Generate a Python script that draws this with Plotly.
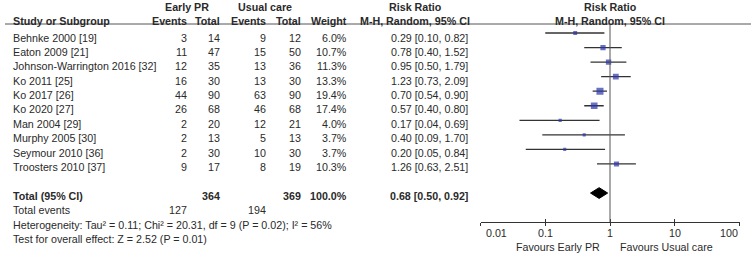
import math
import plotly.graph_objects as go

studies = ["Behnke 2000 [19]", "Eaton 2009 [21]", "Johnson-Warrington 2016 [32]", "Ko 2011 [25]",
           "Ko 2017 [26]", "Ko 2020 [27]", "Man 2004 [29]", "Murphy 2005 [30]",
           "Seymour 2010 [36]", "Troosters 2010 [37]"]
ep_events = [3, 11, 12, 16, 44, 26, 2, 2, 2, 9]
ep_total = [14, 47, 35, 30, 90, 68, 20, 13, 30, 17]
uc_events = [9, 15, 13, 13, 63, 46, 12, 5, 10, 8]
uc_total = [12, 50, 36, 30, 90, 68, 21, 13, 30, 19]
weight = [6.0, 10.7, 11.3, 13.3, 19.4, 17.4, 4.0, 3.7, 3.7, 10.3]
rr = [0.29, 0.78, 0.95, 1.23, 0.70, 0.57, 0.17, 0.40, 0.20, 1.26]
rr_lo = [0.10, 0.40, 0.50, 0.73, 0.54, 0.40, 0.04, 0.09, 0.05, 0.63]
rr_hi = [0.82, 1.52, 1.79, 2.09, 0.90, 0.80, 0.69, 1.70, 0.84, 2.51]

total_ep = 364
total_uc = 369
total_weight = "100.0%"
pooled = 0.68
pooled_lo = 0.50
pooled_hi = 0.92
events_ep = 127
events_uc = 194
heterogeneity = "Heterogeneity: Tau² = 0.11; Chi² = 20.31, df = 9 (P = 0.02); I² = 56%"
overall = "Test for overall effect: Z = 2.52 (P = 0.01)"
tick_vals = [0.01, 0.1, 1, 10, 100]
tick_text = ["0.01", "0.1", "1", "10", "100"]

W, H = 751, 253
FONT = "Liberation Sans, Arial, sans-serif"
FS = 10.7
TXT = "#2a2a2a"
BLUE = "#2b35a8"

# layout geometry (pixels)
AX_Y = 222
ROW0_MARK, ROW_STEP_MARK = 33, 14.55
ROW0_TXT, ROW_STEP_TXT = 37.5, 14.4
y_top = -ROW0_MARK / ROW_STEP_MARK
y_bot = (AX_Y - ROW0_MARK) / ROW_STEP_MARK


def py(p):
    return 1 - p / H


def px(p):
    return p / W


fig = go.Figure()

# CI lines
xs, ys = [], []
for i in range(len(rr)):
    xs += [rr_lo[i], rr_hi[i], None]
    ys += [i, i, None]
fig.add_trace(go.Scatter(x=xs, y=ys, mode="lines", line=dict(color="#333333", width=1.3),
                         hoverinfo="skip", showlegend=False))
# point estimates
fig.add_trace(go.Scatter(x=rr, y=list(range(len(rr))), mode="markers",
                         marker=dict(symbol="square", color=BLUE,
                                     size=[1.6 * w ** 0.5 for w in weight], line=dict(width=0)),
                         showlegend=False))
# pooled diamond
tr = len(rr) + 1
hh = 0.37
fig.add_trace(go.Scatter(x=[pooled_lo, pooled, pooled_hi, pooled, pooled_lo],
                         y=[tr, tr - hh, tr, tr + hh, tr], mode="lines", fill="toself",
                         fillcolor="black", line=dict(color="black", width=1), showlegend=False))
# dummy trace for the second x axis (upward ticks)
fig.add_trace(go.Scatter(x=[1], y=[tr], xaxis="x2", mode="markers",
                         marker=dict(opacity=0), showlegend=False, hoverinfo="skip"))

ann = []


def text(x, y, s, anchor="left", bold=False):
    ann.append(dict(x=px(x), y=py(y), xref="paper", yref="paper",
                    text=f"<b>{s}</b>" if bold else s, showarrow=False, xanchor=anchor,
                    yanchor="middle", font=dict(family=FONT, size=FS, color=TXT)))


# headers
text(187, 7, "Early PR", "center", True)
text(265, 7, "Usual care", "center", True)
text(415, 7, "Risk Ratio", "center", True)
text(11, 21, "Study or Subgroup", "left", True)
text(189, 21, "Events", "right", True)
text(222, 21, "Total", "right", True)
text(268, 21, "Events", "right", True)
text(303, 21, "Total", "right", True)
text(349, 21, "Weight", "right", True)
text(415, 21, "M-H, Random, 95% CI", "center", True)
text(610, 7, "Risk Ratio", "center", True)
text(610, 21, "M-H, Random, 95% CI", "center", True)

for i, s in enumerate(studies):
    yy = ROW0_TXT + ROW_STEP_TXT * i
    text(11, yy, s)
    text(189, yy, str(ep_events[i]), "right")
    text(222, yy, str(ep_total[i]), "right")
    text(268, yy, str(uc_events[i]), "right")
    text(303, yy, str(uc_total[i]), "right")
    text(349, yy, f"{weight[i]:.1f}%", "right")
    text(470, yy, f"{rr[i]:.2f} [{rr_lo[i]:.2f}, {rr_hi[i]:.2f}]", "right")

yy = ROW0_TXT + ROW_STEP_TXT * 11
text(11, yy, "Total (95% CI)", "left", True)
text(222, yy, str(total_ep), "right", True)
text(303, yy, str(total_uc), "right", True)
text(349, yy, total_weight, "right", True)
text(470, yy, f"{pooled:.2f} [{pooled_lo:.2f}, {pooled_hi:.2f}]", "right", True)
yy = ROW0_TXT + ROW_STEP_TXT * 12
text(11, yy, "Total events")
text(189, yy, str(events_ep), "right")
text(268, yy, str(events_uc), "right")
text(11, ROW0_TXT + ROW_STEP_TXT * 13, heterogeneity)
text(11, ROW0_TXT + ROW_STEP_TXT * 14, overall)

# tick labels (end labels aligned inward, as in RevMan); log axes take log10 positions
for k, (v, t) in enumerate(zip(tick_vals, tick_text)):
    anchor = "left" if k == 0 else ("right" if k == len(tick_vals) - 1 else "center")
    ann.append(dict(x=math.log10(v), y=py(233), xref="x", yref="paper", text=t, showarrow=False,
                    xanchor=anchor, xshift=(3 if k == 0 else 0), yanchor="middle",
                    font=dict(family=FONT, size=FS, color=TXT)))

# favours labels
ann.append(dict(x=0, y=py(247), xref="x", yref="paper", text="Favours Early PR", showarrow=False,
                xanchor="right", xshift=-8, yanchor="middle", font=dict(family=FONT, size=FS, color=TXT)))
ann.append(dict(x=0, y=py(247), xref="x", yref="paper", text="Favours Usual care", showarrow=False,
                xanchor="left", xshift=8, yanchor="middle", font=dict(family=FONT, size=FS, color=TXT)))

shapes = [
    dict(type="line", xref="paper", yref="paper", x0=px(5), x1=1, y0=py(24), y1=py(24),
         line=dict(color="#555555", width=1)),
    dict(type="line", xref="x", yref="paper", x0=1, x1=1, y0=py(24), y1=py(AX_Y),
         line=dict(color="#555555", width=1)),
]

dom = [px(480.5), px(739.5)]
axis_common = dict(type="log", range=[-2, 2], domain=dom, showgrid=False, zeroline=False,
                   tickvals=tick_vals, ticklen=3, tickcolor="#333333", tickwidth=1,
                   showticklabels=False)
fig.update_layout(
    width=W, height=H, margin=dict(l=0, r=0, t=0, b=0),
    paper_bgcolor="white", plot_bgcolor="white",
    xaxis=dict(**axis_common, ticks="outside", showline=True, linecolor="#333333", linewidth=1,
               anchor="y"),
    xaxis2=dict(**axis_common, ticks="inside", showline=False,
                overlaying="x", anchor="y", side="bottom"),
    yaxis=dict(range=[y_bot, y_top], domain=[py(AX_Y), 1], visible=False, showgrid=False,
               zeroline=False),
    annotations=ann, shapes=shapes, showlegend=False,
)

fig.write_html("out.html", config={"displayModeBar": False},
               post_script="document.body.style.margin='0';document.body.style.overflow='hidden';")
